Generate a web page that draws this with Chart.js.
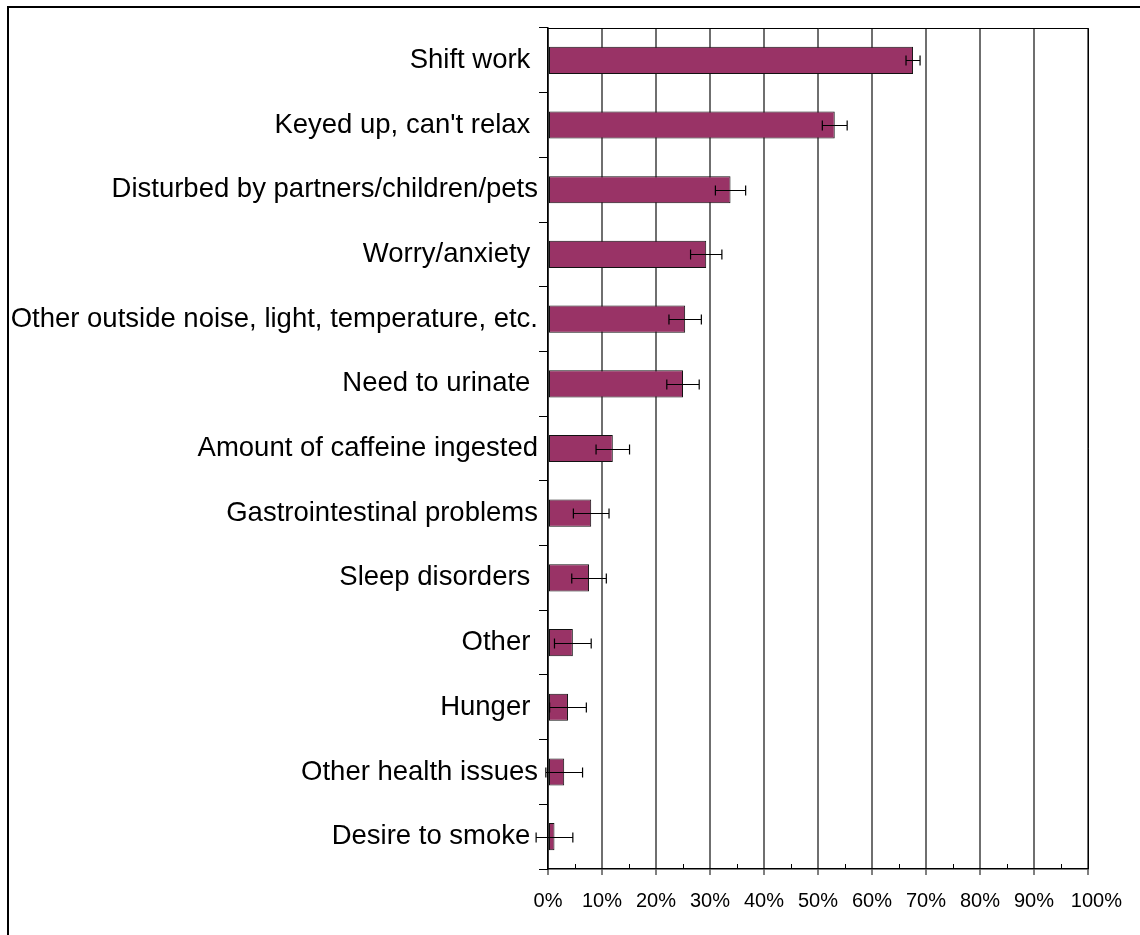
<!DOCTYPE html>
<html>
<head>
<meta charset="utf-8">
<script src="https://cdn.jsdelivr.net/npm/chart.js@4.4.0/dist/chart.umd.min.js"></script>
<style>
  html, body { margin: 0; padding: 0; background: #fff; overflow: hidden; }
  #wrap { width: 1140px; height: 935px; position: relative; }
</style>
</head>
<body>
<div id="wrap"><canvas id="barChart" width="1140" height="935"></canvas></div>

<script>

// reasons (some carry a trailing space, as in the original sheet),
// share of respondents (%) and error bar half-width (%)
var reasons = [
  'Shift work ',
  "Keyed up, can't relax ",
  'Disturbed by partners/children/pets',
  'Worry/anxiety ',
  'Other outside noise, light, temperature, etc.',
  'Need to urinate ',
  'Amount of caffeine ingested',
  'Gastrointestinal problems',
  'Sleep disorders ',
  'Other ',
  'Hunger ',
  'Other health issues',
  'Desire to smoke '
];
var shares = [67.6, 53.1, 33.8, 29.3, 25.4, 25.0, 12.0, 8.0, 7.6, 4.6, 3.7, 3.0, 1.2];
var errors = [1.3, 2.3, 2.8, 2.9, 3.0, 3.0, 3.1, 3.3, 3.2, 3.4, 3.4, 3.4, 3.4];
var pctTicks = [0, 10, 20, 30, 40, 50, 60, 70, 80, 90, 100];


var fontName = "'Liberation Sans', Arial, sans-serif";

// outer frame, plot border, minor ticks and error bars
var extrasPlugin = {
  id: 'extras',
  beforeDraw: function(chart) {
    var ctx = chart.ctx;
    ctx.save();
    ctx.fillStyle = '#fff';
    ctx.fillRect(0, 0, chart.width, chart.height);
    ctx.restore();
  },
  afterDraw: function(chart) {
    var ctx = chart.ctx;
    var area = chart.chartArea;
    var x = chart.scales.x;

    ctx.save();
    ctx.strokeStyle = '#000';

    // frame round the whole chart
    ctx.lineWidth = 2;
    ctx.strokeRect(8, 7, 3000, 3000);

    // plot area border (top and right)
    ctx.lineWidth = 1;
    ctx.beginPath();
    ctx.moveTo(area.left, area.top + 0.5);
    ctx.lineTo(area.right + 0.5, area.top + 0.5);
    ctx.lineTo(area.right + 0.5, area.bottom);
    ctx.stroke();

    // minor ticks at 5% steps, pointing up
    ctx.beginPath();
    for (var i = 0; i < pctTicks.length - 1; i++) {
      var px = Math.round(x.getPixelForValue(pctTicks[i] + 5)) + 0.5;
      ctx.moveTo(px, area.bottom);
      ctx.lineTo(px, area.bottom - 5);
    }
    ctx.stroke();

    // error bars
    var meta = chart.getDatasetMeta(0);
    ctx.lineWidth = 1.2;
    ctx.beginPath();
    for (var j = 0; j < shares.length; j++) {
      var cy = Math.round(meta.data[j].y) + 0.5;
      var lo = x.getPixelForValue(shares[j] - errors[j]);
      var hi = x.getPixelForValue(shares[j] + errors[j]);
      ctx.moveTo(lo, cy);
      ctx.lineTo(hi, cy);
      ctx.moveTo(lo, cy - 5);
      ctx.lineTo(lo, cy + 5);
      ctx.moveTo(hi, cy - 5);
      ctx.lineTo(hi, cy + 5);
    }
    ctx.stroke();
    ctx.restore();
  }
};


var ctx = document.getElementById('barChart').getContext('2d');
var barChart = new Chart(ctx, {
  type: 'bar',
  data: {
    labels: reasons,
    datasets: [{
      data: shares,
      backgroundColor: '#993366',
      borderColor: '#111',
      borderWidth: 1,
      borderSkipped: false,
      categoryPercentage: 1,
      barPercentage: 0.42
    }]
  },
  options: {
    indexAxis: 'y',
    responsive: false,
    animation: false,
    events: [],
    layout: {
      padding: { left: 0, right: 52, top: 28, bottom: 0 }
    },
    plugins: {
      legend: { display: false },
      tooltip: { enabled: false }
    },
    scales: {
      x: {
        min: 0,
        max: 100,
        afterBuildTicks: function(scale) {
          scale.ticks = pctTicks.map(function(v) { return { value: v }; });
        },
        afterFit: function(scale) {
          scale.height = 66;
        },
        grid: {
          color: '#6f6f6f',
          lineWidth: 2,
          drawTicks: true,
          tickLength: 6,
          tickColor: '#000',
          tickWidth: 1
        },
        border: { color: '#000', width: 1.5 },
        ticks: {
          color: '#000',
          padding: 14,
          maxRotation: 0,
          autoSkip: false,
          font: { family: fontName, size: 20 },
          // the last label sits a little right of its tick in the original
          callback: function(v) { return v === 100 ? '   100%' : v + '%'; }
        }
      },
      y: {
        afterFit: function(scale) {
          scale.width = 548;
        },
        grid: {
          drawOnChartArea: false,
          drawTicks: true,
          tickLength: 9,
          tickColor: '#000',
          tickWidth: 1
        },
        border: { color: '#000', width: 1.5 },
        ticks: {
          color: '#000',
          padding: 1,
          autoSkip: false,
          font: { family: fontName, size: 27.5 }
        }
      }
    }
  },
  plugins: [extrasPlugin]
});

</script>
</body>
</html>
